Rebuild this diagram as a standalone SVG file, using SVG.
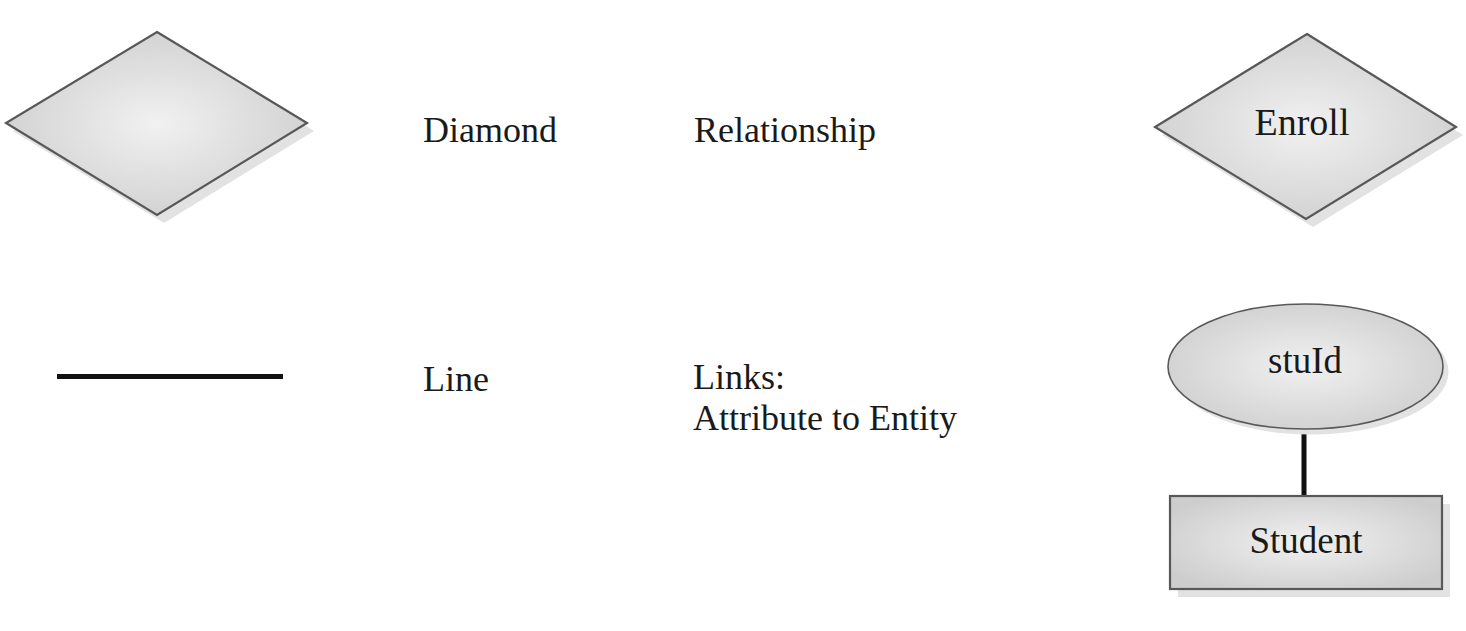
<svg xmlns="http://www.w3.org/2000/svg" width="1466" height="631" viewBox="0 0 1466 631">
  <defs>
    <radialGradient id="shade" cx="50%" cy="50%" r="60%">
      <stop offset="0" stop-color="#f1f1f1"/>
      <stop offset="1" stop-color="#cdcdcd"/>
    </radialGradient>
    <style>
      .shape { fill: url(#shade); stroke: #585858; stroke-width: 2.2; }
      .shadow { fill: #e2e2e2; stroke: none; }
      .lbl { font-family: "Liberation Serif", "Times New Roman", serif; font-size: 36px; fill: #1a1a1a; }
      .mid { text-anchor: middle; }
      .link { stroke: #111; stroke-width: 5; fill: none; }
    </style>
  </defs>
  <rect x="0" y="0" width="1466" height="631" fill="#ffffff"/>

  <g id="legend-diamond">
    <polygon class="shadow" points="164,40 314,131 164,223 13,131"/>
    <polygon class="shape" points="157,32 307,123 157,215 6,123"/>
  </g>

  <g id="legend-line">
    <line x1="57" y1="376.5" x2="283" y2="376.5" stroke="#111" stroke-width="5"/>
  </g>

  <g id="text-diamond"><text class="lbl" x="423" y="142">Diamond</text></g>
  <g id="text-relationship"><text class="lbl" x="694" y="142">Relationship</text></g>
  <g id="text-line"><text class="lbl" x="423" y="391">Line</text></g>
  <g id="text-links">
    <text class="lbl" x="693" y="389">Links:</text>
    <text class="lbl" x="693" y="429.5">Attribute to Entity</text>
  </g>

  <g id="connectors">
    <line class="link" x1="1304" y1="428" x2="1304" y2="496"/>
  </g>

  <g id="enroll">
    <polygon class="shadow" points="1314,42 1463,135 1313,227 1162,135"/>
    <polygon class="shape" points="1307,34 1456,127 1306,219 1155,127"/>
    <text class="lbl mid" x="1302" y="135" style="font-size:38px">Enroll</text>
  </g>

  <g id="stuId">
    <ellipse class="shadow" cx="1311" cy="372" rx="137.5" ry="62.5"/>
    <ellipse class="shape" cx="1305.5" cy="366.5" rx="137.5" ry="62.5" style="stroke-width:1.6"/>
    <text class="lbl mid" x="1305" y="373" style="font-size:37px">stuId</text>
  </g>

  <g id="student">
    <rect class="shadow" x="1178" y="504" width="272" height="93"/>
    <rect class="shape" x="1170" y="496" width="272" height="93"/>
    <text class="lbl mid" x="1306" y="553" style="font-size:37px">Student</text>
  </g>
</svg>
